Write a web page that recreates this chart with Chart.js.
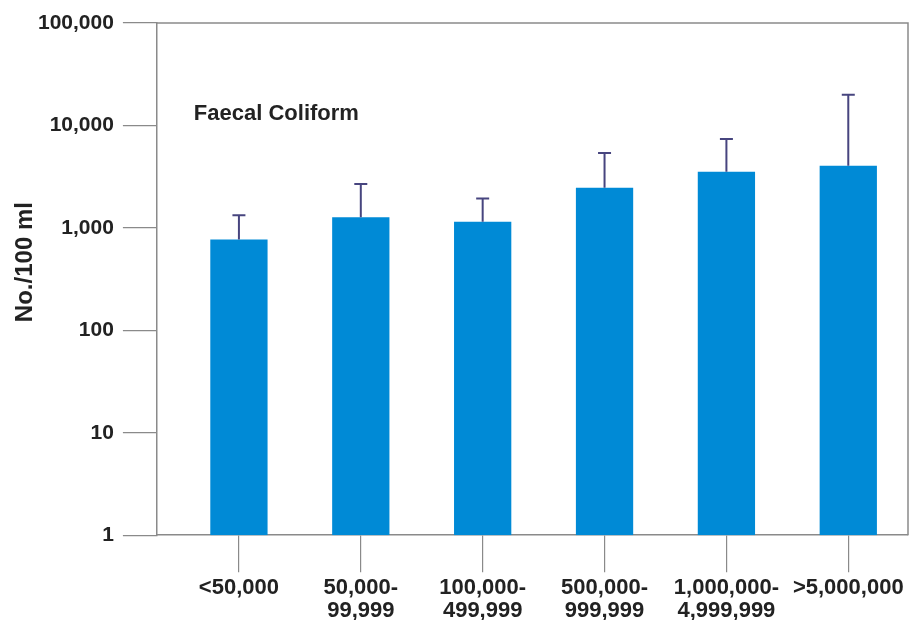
<!DOCTYPE html>
<html><head><meta charset="utf-8">
<script src="https://cdn.jsdelivr.net/npm/chart.js@4"></script>
<style>html,body{margin:0;padding:0;background:#fff}#wrap{width:916px;height:620px}</style>
</head><body><div id="wrap"><canvas id="c" width="916" height="620"></canvas></div>
<script>
const categories = [['<50,000'], ['50,000-','99,999'], ['100,000-','499,999'], ['500,000-','999,999'], ['1,000,000-','4,999,999'], ['>5,000,000']];
const meanValues = [770, 1270, 1150, 2460, 3530, 4040];
const upperErrorValues = [1330, 2680, 1940, 5370, 7370, 19950];
const yTickValues = [1, 10, 100, 1000, 10000, 100000];
const yTickLabels = ['1', '10', '100', '1,000', '10,000', '100,000'];
const seriesName = 'Faecal Coliform';
const yAxisTitle = 'No./100 ml';

const FONT = '"Liberation Sans", Arial, sans-serif';
const axisGrey = '#8a8a8a';

const extras = {
  id: 'extras',
  afterDatasetsDraw(chart) {
    const ctx = chart.ctx, xs = chart.scales.x, ys = chart.scales.y, a = chart.chartArea;
    ctx.save();
    // frame (top and right)
    ctx.strokeStyle = axisGrey; ctx.lineWidth = 1.5;
    ctx.beginPath();
    ctx.moveTo(a.left, a.top); ctx.lineTo(a.right, a.top); ctx.lineTo(a.right, a.bottom);
    ctx.stroke();
    // error bars
    ctx.strokeStyle = '#47457f'; ctx.lineWidth = 2;
    meanValues.forEach((m, i) => {
      const x = xs.getPixelForValue(i);
      const y0 = ys.getPixelForValue(m), y1 = ys.getPixelForValue(upperErrorValues[i]);
      ctx.beginPath();
      ctx.moveTo(x, y0); ctx.lineTo(x, y1);
      ctx.moveTo(x - 6.5, y1); ctx.lineTo(x + 6.5, y1);
      ctx.stroke();
    });
    ctx.fillStyle = '#222';
    // series label
    ctx.font = 'bold 22px ' + FONT;
    ctx.textBaseline = 'middle'; ctx.textAlign = 'left';
    ctx.fillText(seriesName, xs.getPixelForValue(-0.37), ys.getPixelForValue(13000));
    // y axis title
    ctx.font = 'bold 24px ' + FONT;
    ctx.translate(25, (a.top + a.bottom) / 2 - 17);
    ctx.rotate(-Math.PI / 2);
    ctx.textAlign = 'center';
    ctx.fillText(yAxisTitle, 0, 0);
    ctx.restore();
  }
};

new Chart(document.getElementById('c'), {
  type: 'bar',
  data: {
    datasets: [{
      label: seriesName,
      data: meanValues.map((v, i) => ({ x: i, y: v })),
      backgroundColor: '#008ad6',
      borderWidth: 0,
      barPercentage: 0.47,
      categoryPercentage: 1
    }]
  },
  options: {
    responsive: false,
    animation: false,
    layout: { padding: { top: 23, right: 8, left: 29, bottom: -6 } },
    plugins: { legend: { display: false }, tooltip: { enabled: false } },
    scales: {
      x: {
        type: 'linear',
        min: -0.673, max: 5.49,
        offset: false,
        afterBuildTicks: s => { s.ticks = categories.map((_, i) => ({ value: i })); },
        grid: { offset: false, drawOnChartArea: false, drawTicks: true, tickLength: 37, color: axisGrey, lineWidth: 1.2 },
        border: { display: true, color: axisGrey, width: 1.5 },
        ticks: {
          autoSkip: false, maxRotation: 0, padding: 4,
          color: '#222', font: { family: FONT, size: 22, weight: 'bold', lineHeight: 1.04 },
          callback: v => categories[v] || ''
        }
      },
      y: {
        type: 'logarithmic',
        min: 1, max: 100000,
        afterBuildTicks: s => { s.ticks = yTickValues.map(v => ({ value: v })); },
        grid: { drawOnChartArea: false, drawTicks: true, tickLength: 34, color: axisGrey, lineWidth: 1.2 },
        border: { display: true, color: axisGrey, width: 1.5 },
        ticks: {
          autoSkip: false, padding: 9,
          color: '#222', font: { family: FONT, size: 21, weight: 'bold' },
          callback: (v) => { const i = yTickValues.indexOf(v); return i >= 0 ? yTickLabels[i] : ''; }
        }
      }
    }
  },
  plugins: [extras]
});
</script>
</body></html>
